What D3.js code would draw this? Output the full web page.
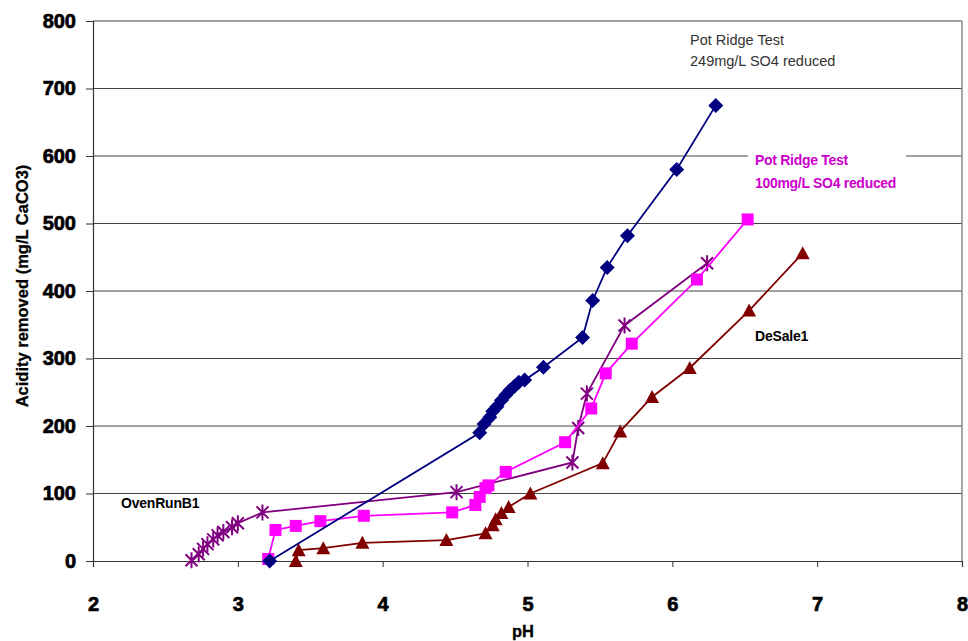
<!DOCTYPE html>
<html>
<head>
<meta charset="utf-8">
<script src="https://cdn.jsdelivr.net/npm/d3@7"></script>
<style>
  html, body { margin: 0; padding: 0; background: #fff; }
  svg { display: block; font-family: "Liberation Sans", Arial, sans-serif; }
</style>
</head>
<body>
<svg id="chart" width="968" height="641"></svg>
<script>
// Acidity removed vs. pH for four treatment runs
const xTicks = [2, 3, 4, 5, 6, 7, 8];
const yTicks = [0, 100, 200, 300, 400, 500, 600, 700, 800];

const pot249PH  = [3.22, 4.67, 4.70, 4.74, 4.76, 4.79, 4.82, 4.85, 4.88, 4.91, 4.94, 4.98, 5.11, 5.38, 5.45, 5.55, 5.69, 6.03, 6.30];
const pot249Acd = [0, 190, 203, 213, 222, 229, 238, 246, 253, 259, 265, 268, 287, 331, 386, 435, 482, 580, 675];

const pot100PH  = [3.21, 3.26, 3.40, 3.57, 3.87, 4.48, 4.64, 4.67, 4.71, 4.73, 4.85, 5.26, 5.44, 5.54, 5.72, 6.17, 6.52];
const pot100Acd = [3, 46, 52, 59, 67, 72, 83, 95, 108, 112, 132, 176, 226, 278, 322, 417, 506];

const ovenPH  = [2.68, 2.73, 2.76, 2.79, 2.83, 2.86, 2.90, 2.96, 3.00, 3.17, 4.51, 5.31, 5.35, 5.41, 5.67, 6.24];
const ovenAcd = [1, 10, 18, 25, 32, 38, 43, 50, 56, 72, 102, 146, 197, 248, 349, 441];

const desalePH  = [3.40, 3.42, 3.59, 3.86, 4.44, 4.71, 4.76, 4.78, 4.82, 4.87, 5.02, 5.52, 5.64, 5.86, 6.12, 6.53, 6.90];
const desaleAcd = [0, 16, 19, 27, 31, 41, 53, 62, 71, 80, 100, 145, 192, 243, 286, 371, 456];

const series = [
  { name: "OvenRunB1", ph: ovenPH, acd: ovenAcd, color: "#800080", shape: "star" },
  { name: "DeSale1", ph: desalePH, acd: desaleAcd, color: "#800000", shape: "triangle" },
  { name: "Pot Ridge Test 100mg/L", ph: pot100PH, acd: pot100Acd, color: "#FF00FF", shape: "square" },
  { name: "Pot Ridge Test 249mg/L", ph: pot249PH, acd: pot249Acd, color: "#000080", shape: "diamond" }
];

const svg = d3.select("#chart");
const plotL = 93, plotR = 962, plotT = 21, plotB = 561;

const x = d3.scaleLinear().domain([2, 8]).range([plotL, plotR]);
const y = d3.scaleLinear().domain([0, 800]).range([plotB, plotT]);

// horizontal gridlines
svg.append("g").selectAll("line").data(yTicks.filter(d => d > 0)).join("line")
  .attr("x1", plotL).attr("x2", plotR)
  .attr("y1", d => y(d)).attr("y2", d => y(d))
  .attr("stroke", "#444").attr("stroke-width", 1.2);

// plot frame (right side)
svg.append("line").attr("x1", plotR).attr("x2", plotR).attr("y1", plotT).attr("y2", plotB)
  .attr("stroke", "#888").attr("stroke-width", 1.5);

// axes
const xAxis = svg.append("g").attr("transform", `translate(0,${plotB})`)
  .call(d3.axisBottom(x).tickValues(xTicks).tickSize(6).tickPadding(30).tickFormat(d3.format("d")));
const yAxis = svg.append("g").attr("transform", `translate(${plotL},0)`)
  .call(d3.axisLeft(y).tickValues(yTicks).tickSize(7).tickPadding(10).tickFormat(d3.format("d")));

[xAxis, yAxis].forEach(a => {
  a.select(".domain").attr("stroke", "#333").attr("stroke-width", 1.2);
  a.selectAll(".tick line").attr("stroke", "#333");
  a.selectAll(".tick text").attr("fill", "#000")
    .attr("stroke", "#000").attr("stroke-width", 0.7)
    .style("font-family", "'Liberation Sans', Arial, sans-serif")
    .style("font-size", "20px").style("font-weight", "bold");
});

// axis titles
svg.append("text").attr("x", 523).attr("y", 637).attr("text-anchor", "middle")
  .attr("stroke", "#000").attr("stroke-width", 0.3)
  .style("font-size", "16.5px").style("font-weight", "bold").text("pH");
svg.append("text").attr("transform", "translate(28,286) rotate(-90)").attr("text-anchor", "middle")
  .attr("stroke", "#000").attr("stroke-width", 0.3)
  .style("font-size", "16.5px").style("font-weight", "bold").text("Acidity removed (mg/L CaCO3)");

// marker shapes
function marker(sel, s) {
  if (s.shape === "star") {
    sel.append("path").attr("d", "M0,-8V8M-6,-6L6,6M-6,6L6,-6")
      .attr("stroke", s.color).attr("stroke-width", 2).attr("fill", "none");
  } else if (s.shape === "triangle") {
    sel.append("path").attr("d", "M0,-7L7,6H-7Z").attr("fill", s.color);
  } else if (s.shape === "square") {
    sel.append("rect").attr("x", -6).attr("y", -6).attr("width", 12).attr("height", 12).attr("fill", s.color);
  } else {
    sel.append("path").attr("d", "M0,-7.5L7.5,0L0,7.5L-7.5,0Z").attr("fill", s.color);
  }
}

const line = d3.line().x(d => x(d[0])).y(d => y(d[1]));

series.forEach(s => {
  const pts = s.ph.map((p, i) => [p, s.acd[i]]);
  const g = svg.append("g");
  g.append("path").attr("d", line(pts)).attr("fill", "none")
    .attr("stroke", s.color).attr("stroke-width", 1.8);
  g.selectAll("g.m").data(pts).join("g").attr("class", "m")
    .attr("transform", d => `translate(${x(d[0])},${y(d[1])})`)
    .each(function () { marker(d3.select(this), s); });
});

// in-plot annotations
svg.append("text").attr("x", 690).attr("y", 45).attr("fill", "#333")
  .style("font-size", "14.5px").text("Pot Ridge Test");
svg.append("text").attr("x", 690).attr("y", 66).attr("fill", "#333")
  .style("font-size", "14.5px").text("249mg/L SO4 reduced");

svg.append("rect").attr("x", 748).attr("y", 148).attr("width", 158).attr("height", 46).attr("fill", "#fff");
svg.append("text").attr("x", 755).attr("y", 165).attr("fill", "#CC00CC")
  .style("font-size", "14px").style("font-weight", "bold").style("letter-spacing", "-0.3px").text("Pot Ridge Test");
svg.append("text").attr("x", 755).attr("y", 188).attr("fill", "#CC00CC")
  .style("font-size", "14px").style("font-weight", "bold").style("letter-spacing", "-0.3px").text("100mg/L SO4 reduced");

svg.append("text").attr("x", 755).attr("y", 341).attr("fill", "#000")
  .style("font-size", "14px").style("font-weight", "bold").style("letter-spacing", "-0.2px").text("DeSale1");
svg.append("text").attr("x", 121).attr("y", 508).attr("fill", "#000")
  .style("font-size", "14px").style("font-weight", "bold").style("letter-spacing", "-0.2px").text("OvenRunB1");
</script>
</body>
</html>
